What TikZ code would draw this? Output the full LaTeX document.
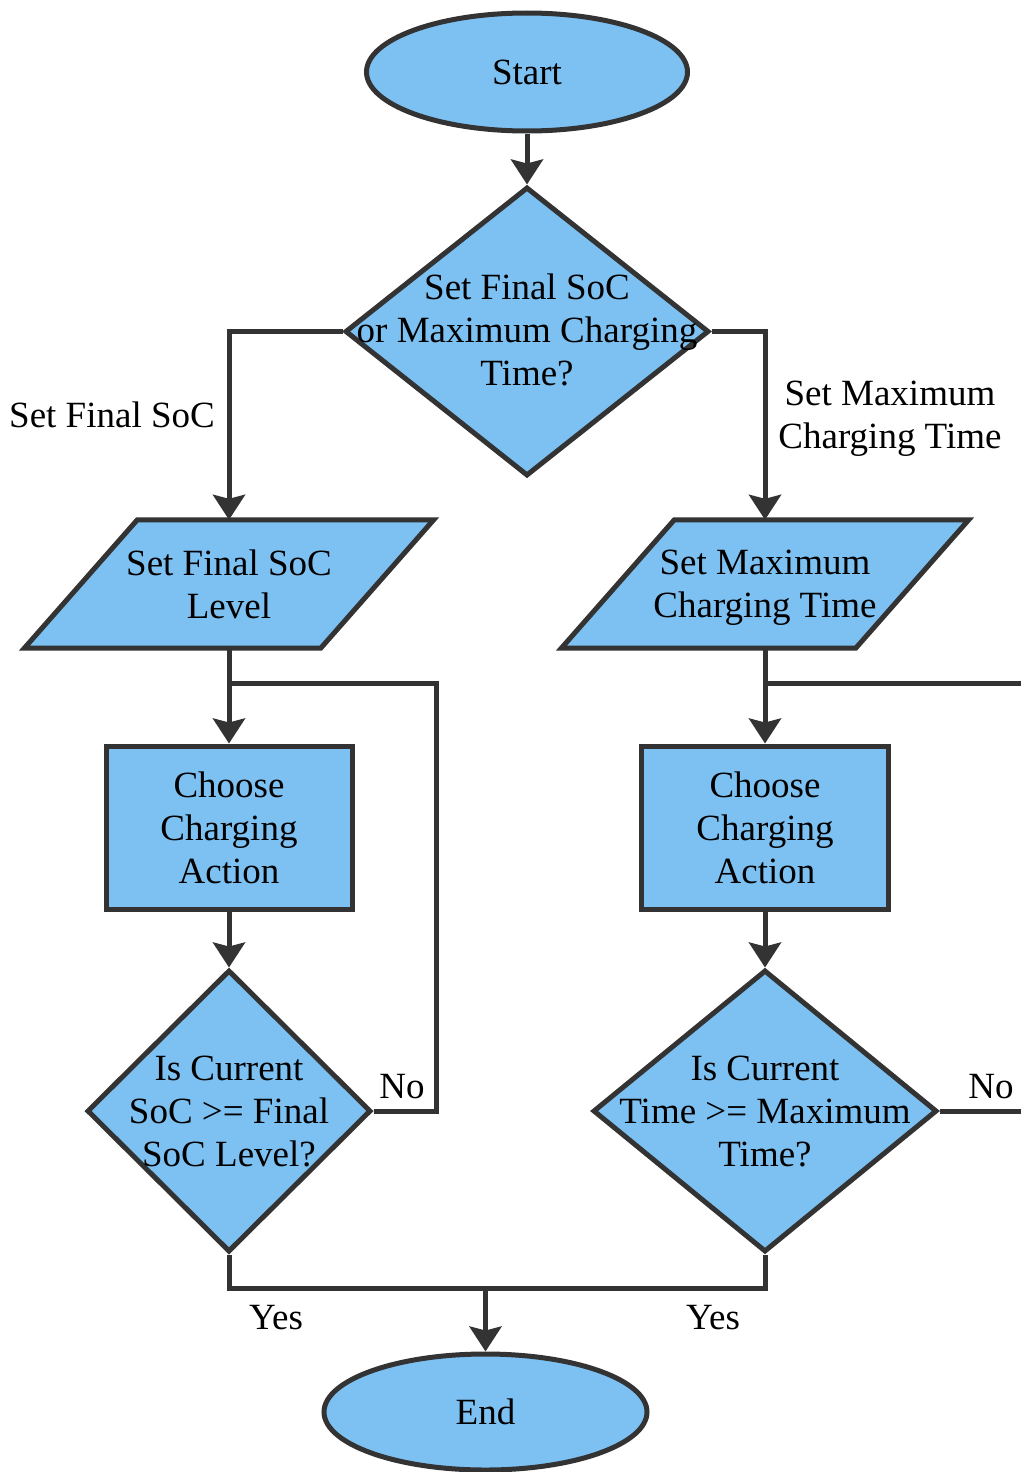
\documentclass[tikz,border=0pt]{standalone}
\usepackage{fontspec}
\setmainfont{Liberation Serif}
\usetikzlibrary{shapes.geometric,arrows.meta,backgrounds}
\definecolor{boxblue}{RGB}{125,193,242}
\definecolor{edgegrey}{RGB}{51,51,51}
\begin{document}
\begin{tikzpicture}[x=1pt,y=-1pt,
  font=\fontsize{37}{43}\selectfont,
  shp/.style={draw=edgegrey, line width=5pt, fill=boxblue},
  term/.style={shp, ellipse, inner sep=0pt},
  dia/.style={shp, diamond, inner sep=0pt},
  proc/.style={shp, rectangle, inner sep=0pt, align=center},
  paranode/.style={rectangle, inner sep=0pt, align=center, text depth=0pt},
  txt/.style={align=center, inner sep=0pt},
  conn/.style={draw=edgegrey, line width=5pt},
  arr/.style={conn, -{Stealth[length=25pt,width=32pt,inset=4pt]}}]
\useasboundingbox (0,0) rectangle (1021,1472);

% terminals
\node[term, minimum width=321pt, minimum height=118pt] (start) at (527,72) {Start};
\node[term, minimum width=323pt, minimum height=116pt] (end) at (485.5,1412) {End};

% top decision
\node[dia, minimum width=364pt, minimum height=289pt] (d1) at (527,331.5) {};
\node[txt] (d1t) at (527,330) {Set Final SoC\\or Maximum Charging\\Time?};

% parallelograms (text nodes; shapes drawn on background)
\node[paranode, minimum width=409pt, minimum height=128pt] (p1) at (229,584) {Set Final SoC\\Level};
\node[paranode, minimum width=407pt, minimum height=128pt] (p2) at (765,584) {Set Maximum\\Charging Time};
\begin{scope}[on background layer]
  \draw[shp] ([xshift=113pt]p1.north west) -- (p1.north east) -- ([xshift=-113pt]p1.south east) -- (p1.south west) -- cycle;
  \draw[shp] ([xshift=113pt]p2.north west) -- (p2.north east) -- ([xshift=-113pt]p2.south east) -- (p2.south west) -- cycle;
\end{scope}

% process boxes
\node[proc, minimum width=246pt, minimum height=163pt] (r1) at (229,827.5) {Choose\\Charging\\Action};
\node[proc, minimum width=247pt, minimum height=163pt] (r2) at (765,827.5) {Choose\\Charging\\Action};

% lower decisions
\node[dia, minimum width=284pt, minimum height=282pt] (d2) at (229,1111) {};
\node[txt] (d2t) at (229,1111) {Is Current\\SoC >= Final\\SoC Level?};
\node[dia, minimum width=344pt, minimum height=282pt] (d3) at (765,1111) {};
\node[txt] (d3t) at (765,1111) {Is Current\\Time >= Maximum\\Time?};

% junction coordinates
\coordinate (j1) at (229,683);
\coordinate (j1r) at (436,683);
\coordinate (j2) at (765,683);
\coordinate (j2r) at (1021,683);
\coordinate (n2r) at (1021,1111);
\coordinate (jb) at (485.5,1288);

% connectors
\draw[arr] (start) -- (d1);
\draw[arr] (d1.west) -| (p1.north);
\draw[arr] (d1.east) -| (p2.north);
\draw[arr] (p1.south) -- (r1.north);
\draw[arr] (p2.south) -- (r2.north);
\draw[arr] (r1.south) -- (d2.north);
\draw[arr] (r2.south) -- (d3.north);
\draw[conn] (d2.east) -| (j1r) -- (j1);
\draw[conn] (j2) -- (j2r);
\draw[conn] (d3.east) -- (n2r);
\draw[conn] (d2.south) |- (jb) -| (d3.south);
\draw[arr] (jb) -- (end.north);

% labels
\node[txt] (lsfs) at (112,415) {Set Final SoC};
\node[txt] (lsmct) at (890,419) {Set Maximum\\Charging Time};
\node[txt] (lno1) at (402,1087) {No};
\node[txt] (lno2) at (991,1087) {No};
\node[txt] (lyes1) at (276,1318) {Yes};
\node[txt] (lyes2) at (713,1318) {Yes};
\end{tikzpicture}
\end{document}
